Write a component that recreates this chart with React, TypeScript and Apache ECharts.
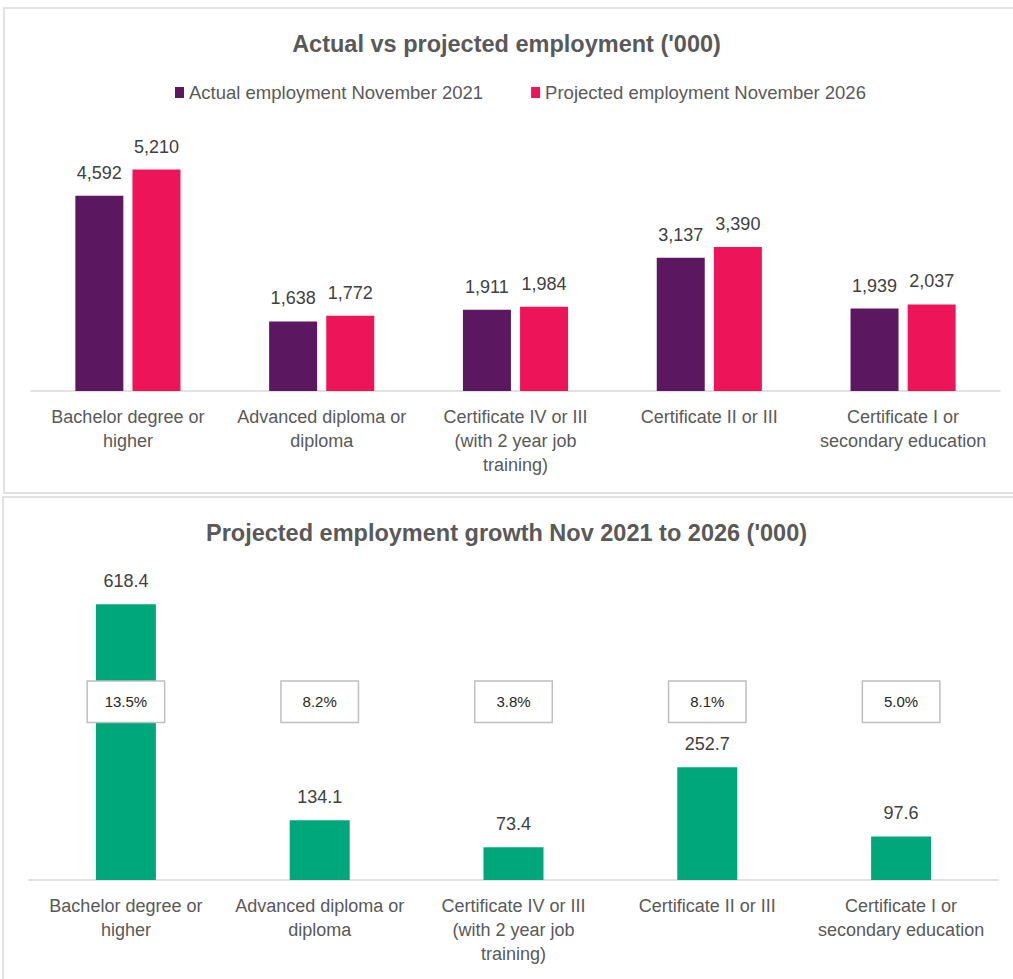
import React, { useEffect, useRef } from "react";
import * as echarts from "echarts";

const categories = [
  "Bachelor degree or\nhigher",
  "Advanced diploma or\ndiploma",
  "Certificate IV or III\n(with 2 year job\ntraining)",
  "Certificate II or III",
  "Certificate I or\nsecondary education",
];
const actual2021 = [4592, 1638, 1911, 3137, 1939];
const projected2026 = [5210, 1772, 1984, 3390, 2037];
const growth = [618.4, 134.1, 73.4, 252.7, 97.6];
const growthPct = ["13.5%", "8.2%", "3.8%", "8.1%", "5.0%"];
const pctLabelLevel = [400, 400, 400, 400, 400];

const FONT = "'Liberation Sans', Arial, sans-serif";
const PURPLE = "#5C1761";
const PINK = "#EE1459";
const GREEN = "#00A77B";
const TXT = "#595959";
const VAL = "#404040";

export default function App() {
  const ref = useRef<HTMLDivElement>(null);
  useEffect(() => {
    if (!ref.current) return;
    const chart = echarts.init(ref.current, null, { renderer: "svg" });
    const catAxisCommon = {
      type: "category",
      data: categories,
      axisLine: { show: true, lineStyle: { color: "#d9d9d9", width: 1.5 } },
      axisTick: { show: false },
      axisLabel: {
        color: TXT,
        fontFamily: FONT,
        fontSize: 18,
        lineHeight: 24,
        margin: 14,
        interval: 0,
      },
    };
    const valLabel = (fmt: (v: number) => string) => ({
      show: true,
      position: "top",
      distance: 14,
      color: VAL,
      fontFamily: FONT,
      fontSize: 18,
      formatter: (p: any) => fmt(Number(p.value)),
    });
    chart.setOption({
      animation: false,
      backgroundColor: "#ffffff",
      textStyle: { fontFamily: FONT },
      graphic: [
        {
          type: "rect",
          shape: { x: 4, y: 8, width: 1030, height: 485 },
          style: { fill: "none", stroke: "#d9d9d9", lineWidth: 1.5 },
          silent: true,
        },
        {
          type: "rect",
          shape: { x: 3, y: 497, width: 1030, height: 510 },
          style: { fill: "none", stroke: "#d9d9d9", lineWidth: 1.5 },
          silent: true,
        },
      ],
      title: [
        {
          text: "Actual vs projected employment ('000)",
          left: "center",
          top: 27,
          textStyle: { fontFamily: FONT, fontSize: 23.5, fontWeight: "bold", color: TXT },
        },
        {
          text: "Projected employment growth Nov 2021 to 2026 ('000)",
          left: "center",
          top: 516,
          textStyle: { fontFamily: FONT, fontSize: 23.5, fontWeight: "bold", color: TXT },
        },
      ],
      legend: {
        left: 170,
        top: 78,
        itemWidth: 9,
        itemHeight: 11,
        itemGap: 48,
        icon: "rect",
        textStyle: { color: TXT, fontFamily: FONT, fontSize: 18.5 },
        data: ["Actual employment November 2021", "Projected employment November 2026"],
      },
      grid: [
        { left: 31, right: 13, top: 136, bottom: 979 - 391 },
        { left: 29, right: 15, top: 568, bottom: 979 - 880 },
      ],
      xAxis: [
        { ...catAxisCommon, gridIndex: 0 },
        { ...catAxisCommon, gridIndex: 1 },
      ],
      yAxis: [
        { type: "value", gridIndex: 0, min: 0, max: 6000, show: false },
        { type: "value", gridIndex: 1, min: 0, max: 700, show: false },
      ],
      series: [
        {
          name: "Actual employment November 2021",
          type: "bar",
          xAxisIndex: 0,
          yAxisIndex: 0,
          data: actual2021,
          barWidth: 48,
          barGap: "19%",
          itemStyle: { color: PURPLE },
          label: valLabel((v) => v.toLocaleString("en-US")),
        },
        {
          name: "Projected employment November 2026",
          type: "bar",
          xAxisIndex: 0,
          yAxisIndex: 0,
          data: projected2026,
          barWidth: 48,
          barGap: "19%",
          itemStyle: { color: PINK },
          label: valLabel((v) => v.toLocaleString("en-US")),
        },
        {
          name: "Growth",
          type: "bar",
          xAxisIndex: 1,
          yAxisIndex: 1,
          data: growth,
          barWidth: 60,
          itemStyle: { color: GREEN },
          label: valLabel((v) => v.toFixed(1)),
        },
        {
          name: "Growth %",
          type: "scatter",
          xAxisIndex: 1,
          yAxisIndex: 1,
          data: pctLabelLevel,
          symbol: "rect",
          symbolSize: 1,
          itemStyle: { color: "rgba(0,0,0,0)", opacity: 1 },
          z: 5,
          label: {
            show: true,
            position: "inside",
            opacity: 1,
            formatter: (p: any) => growthPct[p.dataIndex],
            color: "#262626",
            fontFamily: FONT,
            fontSize: 15,
            lineHeight: 20,
            width: 76,
            align: "center",
            padding: [10, 0],
            backgroundColor: "#ffffff",
            borderColor: "#bfbfbf",
            borderWidth: 1.5,
          },
        },
      ],
    });
    return () => chart.dispose();
  }, []);
  return (
    <div
      ref={ref}
      style={{ position: "absolute", left: 0, top: 0, width: 1013, height: 979 }}
    />
  );
}
